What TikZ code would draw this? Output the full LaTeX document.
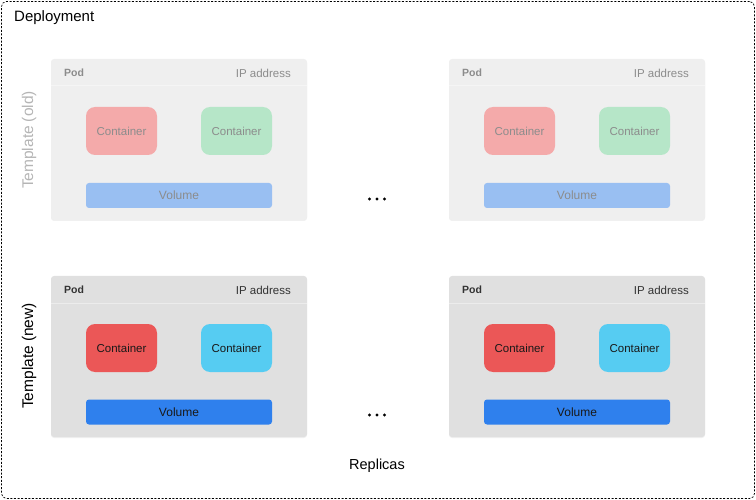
\documentclass[tikz,border=0pt]{standalone}
\usepackage{fontspec}
\setmainfont{Liberation Sans}
\usetikzlibrary{shadows}
\definecolor{oldpod}{HTML}{EFEFEF}
\definecolor{newpod}{HTML}{E0E0E0}
\definecolor{oldred}{HTML}{F4AAAA}
\definecolor{oldgreen}{HTML}{B6E6C8}
\definecolor{oldvol}{HTML}{99BFF2}
\definecolor{newred}{HTML}{EB5757}
\definecolor{newcyan}{HTML}{56CCF2}
\definecolor{newvol}{HTML}{2F80ED}
\definecolor{oldtxt}{HTML}{8C8C8C}
\definecolor{lbltxt}{HTML}{B5B5B5}
\newcommand{\mypod}[5]{%
  % #1 name, #2 left x, #3 top y, #4 old/new, #5 text colour
  \node[podbox, fill=#4pod] (#1) at (#2+128,#3+80.5) {};
  \draw[#4pod!60!white, line width=0.6pt] ([yshift=-27pt]#1.north west) -- ([yshift=-27pt]#1.north east);
  \node[anchor=west, inner sep=0pt, font=\bfseries\fontsize{10.5}{12}\selectfont, text=#5] (#1p) at (#2+13,#3+14) {Pod};
  \node[anchor=east, inner sep=0pt, font=\fontsize{11.5}{13}\selectfont, text=#5] (#1ip) at (#2+240,#3+14) {IP address};
}
\begin{document}
\begin{tikzpicture}[x=1pt,y=-1pt,
  podbox/.style={rounded corners=3pt, minimum width=256pt, minimum height=161pt, inner sep=0pt,
    drop shadow={shadow xshift=0pt, shadow yshift=-1pt, opacity=0.12}},
  cbox/.style={rounded corners=9pt, minimum width=71pt, minimum height=48pt, inner sep=0pt, font=\fontsize{11.5}{13}\selectfont},
  vbox/.style={rounded corners=3pt, minimum width=186pt, minimum height=25pt, inner sep=0pt, font=\fontsize{12}{14}\selectfont}
]
\useasboundingbox (0,0) rectangle (756,500);
\node[draw=black, dash pattern=on 2pt off 1.6pt, line width=0.7pt, rounded corners=5pt,
  minimum width=753pt, minimum height=497pt, inner sep=0pt] (dep) at (378,250) {};
\node[anchor=west, inner sep=0pt, font=\fontsize{15}{17}\selectfont] (deplbl) at (14,18) {Deployment};

% old pods
\mypod{po1}{51}{59}{old}{oldtxt}
\mypod{po2}{449}{59}{old}{oldtxt}
% new pods
\mypod{pn1}{51}{276}{new}{black!80}
\mypod{pn2}{449}{276}{new}{black!80}

\foreach \n/\x in {1/51, 2/449}{
  \node[cbox, fill=oldred, text=oldtxt] (co\n a) at (\x+70.5,131) {Container};
  \node[cbox, fill=oldgreen, text=oldtxt] (co\n b) at (\x+185.5,131) {Container};
  \node[vbox, fill=oldvol, text=oldtxt] (vo\n) at (\x+128,195.5) {Volume};
  \node[cbox, fill=newred, text=black!90] (cn\n a) at (\x+70.5,348) {Container};
  \node[cbox, fill=newcyan, text=black!90] (cn\n b) at (\x+185.5,348) {Container};
  \node[vbox, fill=newvol, text=black!90] (vn\n) at (\x+128,412) {Volume};
}

\node[rotate=90, font=\fontsize{15.5}{17}\selectfont, text=lbltxt] (tOld) at (29,140) {Template\hspace{4pt}(old)};
\node[rotate=90, font=\fontsize{15.5}{17}\selectfont] (tNew) at (29,356) {Template\hspace{4pt}(new)};

\foreach \y in {199, 415}{
  \fill (369.5,\y) circle (1.7pt) (377,\y) circle (1.7pt) (384.5,\y) circle (1.7pt);
}
\node[font=\fontsize{14.5}{16}\selectfont] (rep) at (377,466) {Replicas};
\end{tikzpicture}
\end{document}
